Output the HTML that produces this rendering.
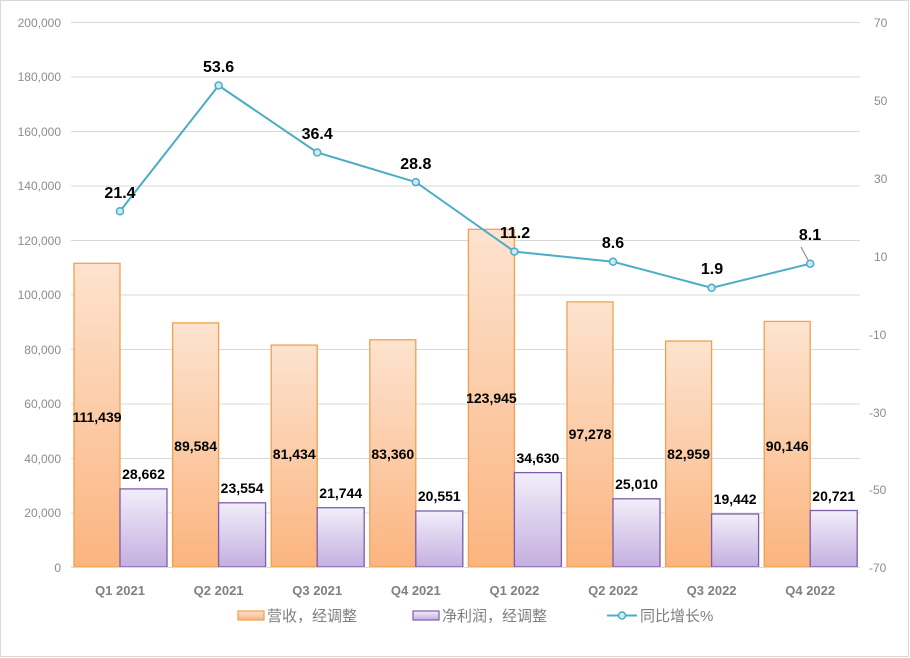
<!DOCTYPE html>
<html><head><meta charset="utf-8"><style>body{margin:0;background:#fff}svg{display:block}</style></head><body>
<svg width="910" height="658" viewBox="0 0 910 658" xmlns="http://www.w3.org/2000/svg" font-family="'Liberation Sans','Noto Sans CJK SC',sans-serif">
<defs>
<linearGradient id="go" x1="0" y1="0" x2="0" y2="1"><stop offset="0" stop-color="#fde3cf"/><stop offset="1" stop-color="#fbb47f"/></linearGradient>
<linearGradient id="gp" x1="0" y1="0" x2="0" y2="1"><stop offset="0" stop-color="#f2eefa"/><stop offset="1" stop-color="#c4afe0"/></linearGradient>
</defs>
<rect x="0.5" y="0.5" width="908" height="656" fill="#fff" stroke="#d9d9d9"/>
<g stroke="#d9d9d9" stroke-width="1">
<line x1="71" x2="860" y1="22.5" y2="22.5"/><line x1="71" x2="860" y1="77" y2="77"/><line x1="71" x2="860" y1="131.5" y2="131.5"/><line x1="71" x2="860" y1="186" y2="186"/><line x1="71" x2="860" y1="240.5" y2="240.5"/><line x1="71" x2="860" y1="295" y2="295"/><line x1="71" x2="860" y1="349.5" y2="349.5"/><line x1="71" x2="860" y1="404" y2="404"/><line x1="71" x2="860" y1="458.5" y2="458.5"/><line x1="71" x2="860" y1="513" y2="513"/><line x1="71" x2="860" y1="567.5" y2="567.5"/>
</g>
<g fill="#8c8c8c" font-size="12" text-anchor="end">
<text x="61" y="27">200,000</text><text x="61" y="81">180,000</text><text x="61" y="136">160,000</text><text x="61" y="190">140,000</text><text x="61" y="245">120,000</text><text x="61" y="299">100,000</text><text x="61" y="354">80,000</text><text x="61" y="408">60,000</text><text x="61" y="463">40,000</text><text x="61" y="517">20,000</text><text x="61" y="572">0</text>
</g>
<g fill="#8c8c8c" font-size="12">
<text x="874" y="27">70</text><text x="874" y="105">50</text><text x="874" y="183">30</text><text x="874" y="261">10</text><text x="869" y="339">-10</text><text x="869" y="417">-30</text><text x="869" y="494">-50</text><text x="869" y="572">-70</text>
</g>
<g stroke="#f0a050" stroke-width="1.3" fill="url(#go)">
<rect x="74" y="263.3" width="46" height="303.7"/>
<rect x="172.6" y="322.9" width="46" height="244.1"/>
<rect x="271.2" y="345.1" width="46" height="221.9"/>
<rect x="369.8" y="339.8" width="46" height="227.2"/>
<rect x="468.4" y="229.3" width="46" height="337.7"/>
<rect x="567" y="301.9" width="46" height="265.1"/>
<rect x="665.6" y="341" width="46" height="226"/>
<rect x="764.2" y="321.4" width="46" height="245.6"/>
</g>
<g stroke="#7f5ea8" stroke-width="1.3" fill="url(#gp)">
<rect x="120" y="488.9" width="47" height="78.1"/>
<rect x="218.6" y="502.8" width="47" height="64.2"/>
<rect x="317.2" y="507.7" width="47" height="59.3"/>
<rect x="415.8" y="511" width="47" height="56"/>
<rect x="514.4" y="472.6" width="47" height="94.4"/>
<rect x="613" y="498.8" width="47" height="68.2"/>
<rect x="711.6" y="514" width="47" height="53"/>
<rect x="810.2" y="510.5" width="47" height="56.5"/>
</g>
<line x1="71" x2="860" y1="567.5" y2="567.5" stroke="#d9d9d9"/>
<g font-size="14" font-weight="bold" fill="#000" text-anchor="middle">
<text x="97" y="422">111,439</text><text x="195.6" y="451">89,584</text><text x="294.2" y="459">81,434</text><text x="392.8" y="459">83,360</text><text x="491.4" y="403">123,945</text><text x="590" y="439">97,278</text><text x="688.6" y="459">82,959</text><text x="787.2" y="451">90,146</text>
<text x="143.5" y="479">28,662</text><text x="242.1" y="493">23,554</text><text x="340.7" y="498">21,744</text><text x="439.3" y="501">20,551</text><text x="537.9" y="463">34,630</text><text x="636.5" y="489">25,010</text><text x="735.1" y="504">19,442</text><text x="833.7" y="501">20,721</text>
</g>
<polyline fill="none" stroke="#4bacc6" stroke-width="2" points="120,211.2 218.6,85.5 317.2,152.5 415.8,182.1 514.4,251.6 613,261.7 711.6,287.8 810.2,263.7"/>
<line x1="801" y1="247" x2="808" y2="260" stroke="#808080" stroke-width="1"/>
<g fill="#cdeaf2" stroke="#4bacc6" stroke-width="1.5">
<circle cx="120" cy="211.2" r="3.5"/><circle cx="218.6" cy="85.5" r="3.5"/><circle cx="317.2" cy="152.5" r="3.5"/><circle cx="415.8" cy="182.1" r="3.5"/><circle cx="514.4" cy="251.6" r="3.5"/><circle cx="613" cy="261.7" r="3.5"/><circle cx="711.6" cy="287.8" r="3.5"/><circle cx="810.2" cy="263.7" r="3.5"/>
</g>
<g font-size="16" font-weight="bold" fill="#000" text-anchor="middle">
<text x="120" y="198">21.4</text><text x="218.6" y="72">53.6</text><text x="317.2" y="139">36.4</text><text x="415.8" y="169">28.8</text><text x="515" y="238">11.2</text><text x="613" y="248">8.6</text><text x="712" y="274">1.9</text><text x="810" y="240">8.1</text>
</g>
<g font-size="13" font-weight="bold" fill="#808080" text-anchor="middle">
<text x="120" y="595">Q1 2021</text><text x="218.6" y="595">Q2 2021</text><text x="317.2" y="595">Q3 2021</text><text x="415.8" y="595">Q4 2021</text><text x="514.4" y="595">Q1 2022</text><text x="613" y="595">Q2 2022</text><text x="711.6" y="595">Q3 2022</text><text x="810.2" y="595">Q4 2022</text>
</g>
<rect x="238" y="611" width="26" height="9" fill="url(#go)" stroke="#f0a050" stroke-width="1.2"/>
<text x="267" y="621" font-size="15" fill="#7f7f7f">营收，经调整</text>
<rect x="413" y="611" width="26" height="9" fill="url(#gp)" stroke="#7f5ea8" stroke-width="1.2"/>
<text x="442" y="621" font-size="15" fill="#7f7f7f">净利润，经调整</text>
<line x1="607" x2="637" y1="615.5" y2="615.5" stroke="#4bacc6" stroke-width="2"/>
<circle cx="622" cy="615.5" r="3.5" fill="#cdeaf2" stroke="#4bacc6" stroke-width="1.5"/>
<text x="640" y="621" font-size="15" fill="#7f7f7f">同比增长%</text>
</svg>
</body></html>
